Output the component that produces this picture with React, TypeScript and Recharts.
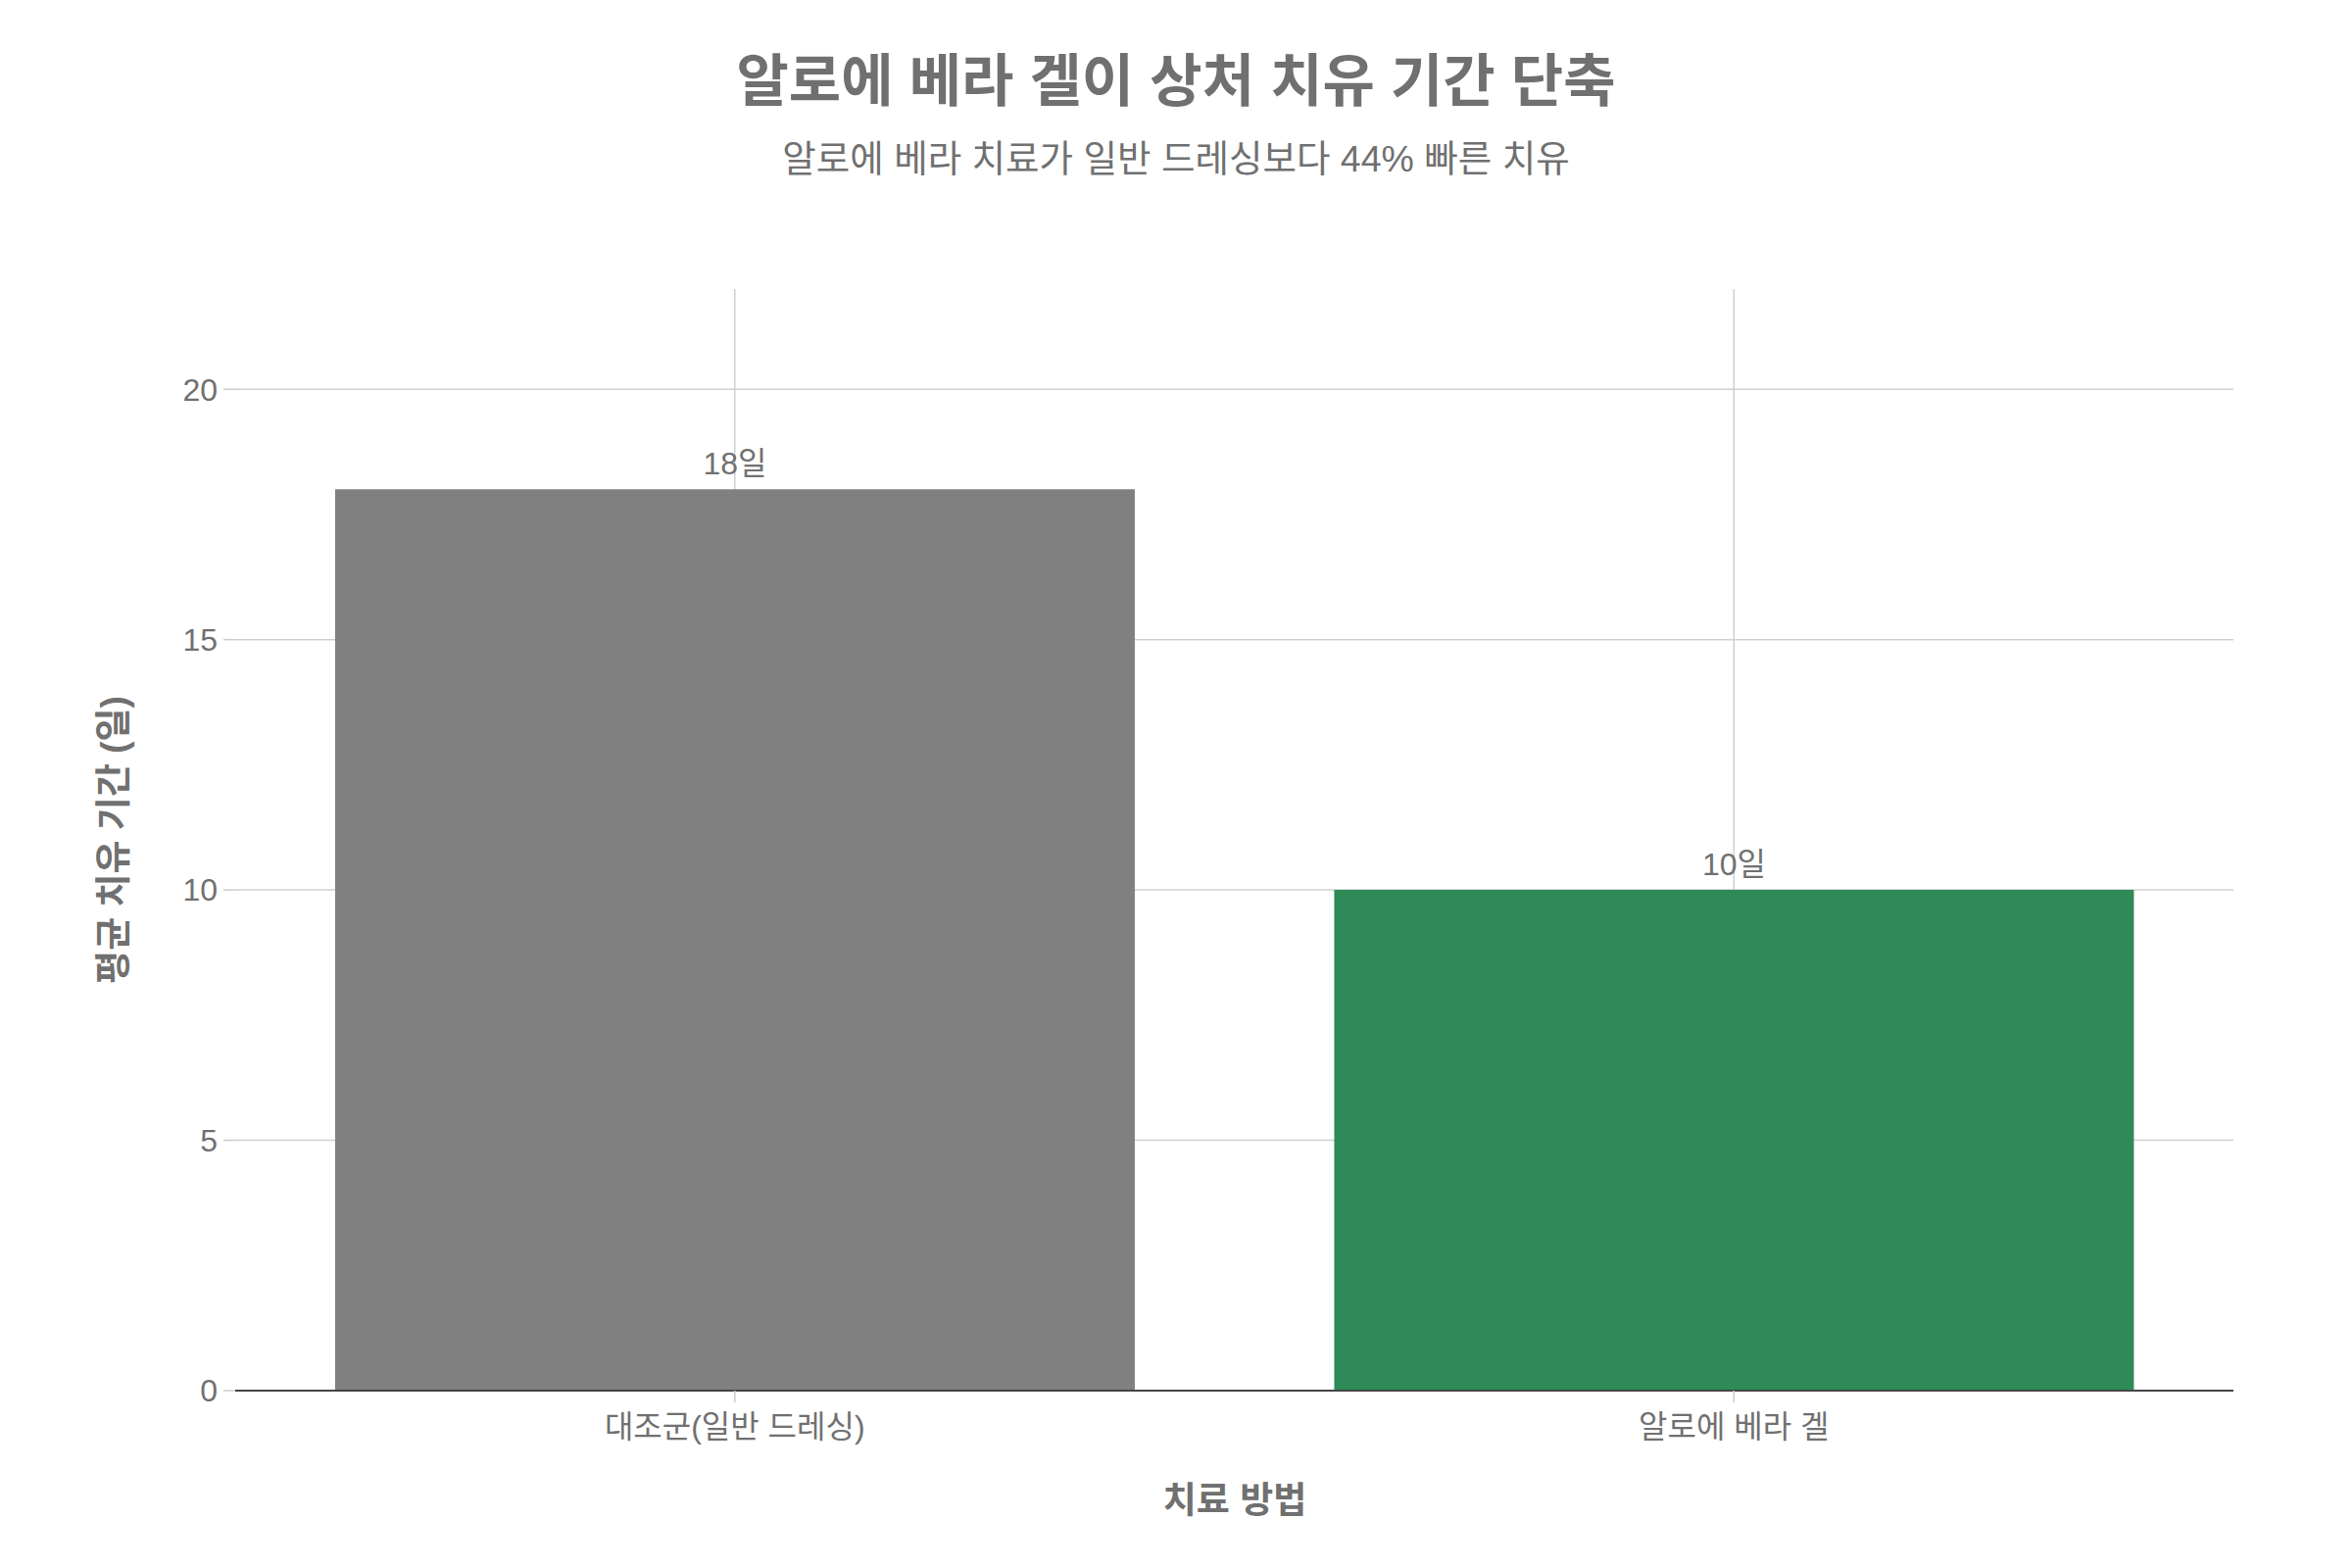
import React from 'react';
import { BarChart, Bar, XAxis, YAxis, CartesianGrid, Cell, LabelList } from 'recharts';

const categories = ['대조군(일반 드레싱)', '알로에 베라 겔'];
const healingDays = [18, 10];
const barColors = ['#808080', '#2E8B57'];
const yTicks = [0, 5, 10, 15, 20];

const titleText = '알로에 베라 겔이 상처 치유 기간 단축';
const subtitleText = '알로에 베라 치료가 일반 드레싱보다 44% 빠른 치유';
const xAxisTitle = '치료 방법';
const yAxisTitle = '평균 치유 기간 (일)';

const data = categories.map((c, i) => ({ name: c, value: healingDays[i] }));

const FONT = "'Liberation Sans', 'Noto Sans CJK KR', sans-serif";
const TEXT = '#707070';

export default function App() {
  return (
    <div style={{ position: 'absolute', left: 0, top: 0, width: 2400, height: 1600, background: '#ffffff', fontFamily: FONT }}>
      <BarChart
        width={2400}
        height={1600}
        data={data}
        margin={{ top: 295, right: 121, bottom: 121, left: 160 }}
        barCategoryGap="10%"
      >
        <CartesianGrid stroke="#d0d0d0" strokeWidth={1.5} vertical={true} horizontal={true} syncWithTicks={true} />
        <XAxis
          dataKey="name"
          height={60}
          axisLine={{ stroke: '#444444', strokeWidth: 2 }}
          tickLine={{ stroke: '#cccccc', strokeWidth: 1.5 }}
          tickSize={12}
          tickMargin={13}
          tick={{ fontSize: 32, fill: TEXT, fontFamily: FONT }}
        />
        <YAxis
          width={80}
          domain={[0, 22]}
          ticks={yTicks}
          axisLine={false}
          tickLine={{ stroke: '#cccccc', strokeWidth: 1.5 }}
          tickSize={12}
          tickMargin={6}
          tick={{ fontSize: 32, fill: TEXT, fontFamily: FONT }}
        />
        <Bar dataKey="value" isAnimationActive={false}>
          {data.map((d, i) => (
            <Cell key={d.name} fill={barColors[i]} />
          ))}
          <LabelList
            dataKey="value"
            position="top"
            offset={15}
            formatter={(v: any) => `${v}일`}
            style={{ fontSize: 32, fill: TEXT, fontFamily: FONT }}
          />
        </Bar>
      </BarChart>
      <svg width={2400} height={1600} style={{ position: 'absolute', left: 0, top: 0, pointerEvents: 'none' }}>
        <text x={1200} y={82} textAnchor="middle" dominantBaseline="central" fontSize={58} fontWeight="bold" fill={TEXT} fontFamily={FONT}>
          {titleText}
        </text>
        <text x={1200} y={162} textAnchor="middle" dominantBaseline="central" fontSize={37.5} fill={TEXT} fontFamily={FONT}>
          {subtitleText}
        </text>
        <text x={1260} y={1531} textAnchor="middle" dominantBaseline="central" fontSize={37} fontWeight="bold" fill={TEXT} fontFamily={FONT}>
          {xAxisTitle}
        </text>
        <text
          x={116}
          y={857}
          textAnchor="middle"
          dominantBaseline="central"
          fontSize={37}
          fontWeight="bold"
          fill={TEXT}
          fontFamily={FONT}
          transform="rotate(-90 116 857)"
        >
          {yAxisTitle}
        </text>
      </svg>
    </div>
  );
}
